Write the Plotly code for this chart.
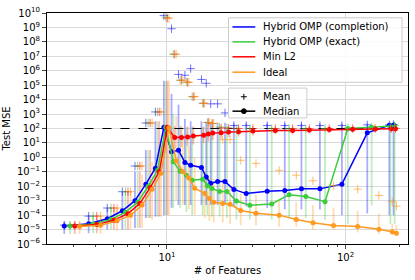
import numpy as np
import plotly.graph_objects as go

features = [3, 4, 5, 6, 7, 8, 9, 10, 11, 12, 13, 14, 16, 17, 18, 20, 22, 25, 30, 40, 50, 62, 80, 108, 145, 180, 190]

omp_comp_median = [1.8e-5, 2.5e-5, 5.6e-5, 2.0e-4, 1.0e-3, 1.4e-2, 0.18, 120, 2.5, 3.1, 0.45, 0.28, 0.2, 0.043, 0.016, 0.021, 0.021, 6.0e-3, 3.1e-3, 4.5e-3, 5.0e-3, 6.6e-3, 6.6e-3, 1.4e-2, 50, 166, 178]
omp_comp_mean = [2.0e-5, 8.5e-5, 3.1e-4, 4.2e-3, 0.25, 240, 1.4e3, 6.6e9, 8.1e8, 5.6e5, 4.9e5, 1.4e6, 2.5e5, 1.35e5, 5.1e3, 5.1e3, 1.2e3, 160, 160, 160, 160, 160, 160, 160, 180, 180, 190]
omp_comp_lo = [5.0e-6, 5.6e-6, 1.0e-5, 1.0e-5, 1.3e-5, 6.3e-5, 7.9e-5, 1.0e-4, 3.2e-4, 5.0e-4, 5.0e-4, 5.0e-4, 5.0e-4, 5.0e-4, 5.0e-4, 5.0e-4, 5.0e-4, 4.0e-4, 4.0e-4, 3.2e-4, 2.5e-4, 2.5e-4, 2.5e-4, 1.0e-4, 1.3e-4, 1.0e-4, 1.0e-4]
omp_comp_hi = [3.5e-5, 1.0e-4, 3.4e-4, 4.5e-3, 0.1, 3.2, 320, 2.0e5, 2.5e4, 4.5e3, 450, 320, 320, 280, 250, 250, 250, 224, 224, 224, 224, 224, 224, 224, 224, 224, 224]

omp_exact_median = [1.8e-5, 2.4e-5, 5.0e-5, 1.6e-4, 7.9e-4, 1.0e-2, 0.126, 120, 0.5, 0.11, 0.058, 0.026, 0.031, 0.011, 7.1e-3, 4.4e-3, 4.4e-3, 9.5e-4, 4.8e-4, 6.0e-4, 2.6e-3, 1.95e-3, 8.5e-4, 100, 123, 141, 158]
omp_exact_mean = [2.0e-5, 8.5e-5, 3.1e-4, 4.2e-3, 0.25, 240, 1.4e3, 5.0e9, 1.4e7, 2.2e5, 1.6e5, 1.6e4, 5.6e3, 263, 224, 126, 112, 100, 100, 100, 100, 100, 100, 112, 126, 141, 158]
omp_exact_lo = [5.0e-6, 5.6e-6, 1.0e-5, 1.0e-5, 1.3e-5, 6.3e-5, 7.9e-5, 1.0e-4, 3.2e-4, 3.2e-4, 1.6e-4, 1.0e-4, 1.0e-4, 1.0e-4, 7.9e-5, 7.9e-5, 6.3e-5, 5.0e-5, 5.0e-5, 5.0e-5, 7.4e-5, 6.3e-5, 4.7e-5, 2.5e-5, 4.7e-4, 2.5e-5, 2.5e-5]
omp_exact_hi = [3.5e-5, 1.0e-4, 3.4e-4, 4.5e-3, 0.1, 3.2, 320, 2.0e5, 1.0e3, 160, 126, 126, 126, 126, 126, 126, 126, 126, 126, 126, 126, 126, 126, 126, 126, 126, 126]

min_l2_median = [1.8e-5, 2.2e-5, 4.5e-5, 1.26e-4, 6.3e-4, 7.9e-3, 0.1, 120, 24, 24, 26, 30, 34, 42, 48, 51, 58, 59, 66, 74, 74, 79, 85, 89, 91, 95, 95]
min_l2_mean = [2.0e-5, 8.5e-5, 3.1e-4, 4.2e-3, 0.25, 240, 1.4e3, 4.4e9, 1.4e7, 2.2e5, 1.6e5, 1.6e4, 5.6e3, 263, 224, 110, 105, 100, 100, 100, 100, 100, 100, 100, 100, 100, 100]
min_l2_lo = [5.0e-6, 5.6e-6, 1.0e-5, 1.0e-5, 1.3e-5, 6.3e-5, 7.9e-5, 1.0e-4, 4, 5, 6.3, 7.9, 10, 12.6, 15.8, 20, 25, 28, 32, 40, 40, 45, 50, 56, 56, 63, 63]
min_l2_hi = [3.5e-5, 1.0e-4, 3.4e-4, 4.5e-3, 0.1, 3.2, 320, 2.0e5, 140, 140, 140, 140, 140, 140, 140, 140, 140, 140, 140, 140, 140, 140, 140, 140, 140, 140, 140]

ideal_median = [1.6e-5, 2.0e-5, 4.0e-5, 1.0e-4, 5.0e-4, 6.3e-3, 0.079, 112, 0.58, 0.105, 0.038, 7.4e-3, 3.2e-3, 1.4e-3, 7.9e-4, 6.3e-4, 5.6e-4, 2.1e-4, 1.35e-4, 1.0e-4, 4.9e-5, 3.0e-5, 1.95e-5, 1.6e-5, 1.05e-5, 7.1e-6, 5.6e-6]
ideal_mean = [2.0e-5, 8.5e-5, 3.1e-4, 4.2e-3, 0.25, 240, 1.4e3, 4.4e9, 1.4e7, 2.2e5, 1.6e5, 1.6e4, 5.6e3, 263, 224, 17, 17, 0.63, 0.38, 0.126, 0.058, 0.024, 0.011, 6.3e-3, 2.3e-3, 8.5e-4, 4.2e-4]
ideal_lo = [5.0e-6, 5.0e-6, 7.9e-6, 1.0e-5, 1.3e-5, 5.0e-5, 7.9e-5, 1.0e-4, 1.0e-3, 5.0e-4, 2.5e-4, 1.0e-4, 6.3e-5, 4.0e-5, 3.2e-5, 3.2e-5, 2.5e-5, 2.0e-5, 2.0e-5, 1.6e-5, 1.6e-5, 1.0e-5, 1.0e-5, 6.3e-6, 5.0e-6, 4.0e-6, 3.5e-6]
ideal_hi = [3.5e-5, 1.0e-4, 3.2e-4, 4.0e-3, 6.3e-2, 0.5, 7.9, 2.0e5, 710, 40, 6.3, 1.0, 0.1, 0.04, 0.032, 0.032, 0.01, 3.2e-3, 2.5e-3, 1.0e-3, 7.9e-4, 5.0e-4, 3.2e-4, 2.0e-4, 1.26e-4, 2.5e-5, 2.0e-5]

noise_x = [3.45, 195]
noise_y = [100, 100]

y_tick_exponents = list(range(-6, 11))
x_tick_values = [10, 100]
x_tick_labels = ["10<sup>1</sup>", "10<sup>2</sup>"]
x_minor_ticks = [3, 4, 5, 6, 7, 8, 9, 20, 30, 40, 50, 60, 70, 80, 90, 200]

series = [
    ("Hybrid OMP (completion)", omp_comp_median, omp_comp_mean, omp_comp_lo, omp_comp_hi, "#0000ff", "rgba(0,0,255,0.33)", "rgba(0,0,255,0.55)", -0.42),
    ("Hybrid OMP (exact)", omp_exact_median, omp_exact_mean, omp_exact_lo, omp_exact_hi, "#3ccc3c", "rgba(60,204,60,0.33)", "rgba(60,204,60,0.6)", -0.16),
    ("Min L2", min_l2_median, min_l2_mean, min_l2_lo, min_l2_hi, "#ff0000", "rgba(255,0,0,0.28)", "rgba(255,0,0,0.55)", 0.05),
    ("Ideal", ideal_median, ideal_mean, ideal_lo, ideal_hi, "#ff9a1f", "rgba(255,154,31,0.35)", "rgba(255,154,31,0.65)", 0.27),
]

lx = np.log10(np.array(features, dtype=float))
gaps = np.diff(lx)
g = np.minimum(np.r_[gaps, gaps[-1]], np.r_[gaps[0], gaps])

fig = go.Figure()

for name, med, mean, lo, hi, col, bcol, mcol, k in series:
    xs = 10 ** (lx + k * g)
    med_a = np.array(med); lo_a = np.array(lo); hi_a = np.array(hi)
    fig.add_trace(go.Scatter(
        x=xs, y=med_a, mode="markers", marker=dict(size=1, opacity=0),
        error_y=dict(type="data", symmetric=False, array=np.maximum(hi_a - med_a, 0),
                     arrayminus=np.maximum(med_a - lo_a, 0), color=bcol, thickness=1.8, width=0),
        showlegend=False, hoverinfo="skip"))

fig.add_trace(go.Scatter(x=noise_x, y=noise_y, mode="lines",
                         line=dict(color="black", width=1.2, dash="dash"),
                         showlegend=False, hoverinfo="skip"))

for name, med, mean, lo, hi, col, bcol, mcol, k in series:
    xs = 10 ** (lx + k * g)
    fig.add_trace(go.Scatter(x=xs, y=med, mode="lines+markers", name=name,
                             line=dict(color=col, width=1.5),
                             marker=dict(color=col, size=5),
                             showlegend=False))

for name, med, mean, lo, hi, col, bcol, mcol, k in series:
    xs = 10 ** (lx + k * g)
    fig.add_trace(go.Scatter(x=xs, y=mean, mode="markers", name=name + " mean",
                             marker=dict(symbol="cross-thin", size=6, line=dict(color=mcol, width=1)),
                             showlegend=False))

# ---- manual legends (pixel layout converted to paper coords) ----
L, R, T, B = 45, 409, 8, 248
def px(xp):
    return (xp - L) / (R - L)
def py(yp):
    return (B - yp) / (B - T)

shapes = []
annotations = []
font = dict(family="DejaVu Sans", size=10, color="black")

def box(x0, y0, x1, y1):
    shapes.append(dict(type="rect", xref="paper", yref="paper", x0=px(x0), x1=px(x1), y0=py(y1), y1=py(y0),
                       line=dict(color="#cccccc", width=1), fillcolor="rgba(255,255,255,0.85)", layer="above"))

def hline(x0, x1, y, color):
    shapes.append(dict(type="line", xref="paper", yref="paper", x0=px(x0), x1=px(x1), y0=py(y), y1=py(y),
                       line=dict(color=color, width=1.5), layer="above"))

def label(x, y, text):
    annotations.append(dict(xref="paper", yref="paper", x=px(x), y=py(y), text=text, showarrow=False,
                            xanchor="left", yanchor="middle", font=font))

box(228, 13, 403, 80)
rows = [22.5, 38, 53.5, 69.5]
for (name, med, mean, lo, hi, col, bcol, mcol, k), yr in zip(series, rows):
    hline(232, 255, yr, col)
    label(261, yr, name)

box(228, 86, 307, 117)
shapes.append(dict(type="line", xref="paper", yref="paper", x0=px(240.5), x1=px(246.5), y0=py(95), y1=py(95),
                   line=dict(color="black", width=1), layer="above"))
shapes.append(dict(type="line", xref="paper", yref="paper", x0=px(243.5), x1=px(243.5), y0=py(92), y1=py(98),
                   line=dict(color="black", width=1), layer="above"))
label(261, 95, "Mean")
hline(232, 255, 110, "black")
shapes.append(dict(type="circle", xref="paper", yref="paper", x0=px(241), x1=px(246), y0=py(112.5), y1=py(107.5),
                   line=dict(color="black", width=1), fillcolor="black", layer="above"))
label(261, 110, "Median")

fig.update_layout(
    width=415, height=280, autosize=False,
    margin=dict(l=L, r=415 - R, t=T, b=280 - B),
    paper_bgcolor="white", plot_bgcolor="white",
    font=font, showlegend=False,
    shapes=shapes, annotations=annotations,
    xaxis=dict(type="log", range=[0.328, 2.35], showline=True, mirror=True, linecolor="black", linewidth=1,
               ticks="outside", ticklen=4, tickvals=x_tick_values, ticktext=x_tick_labels,
               showgrid=True, gridcolor="#dadada", gridwidth=1, zeroline=False,
               minor=dict(ticks="outside", ticklen=2, tickvals=x_minor_ticks, showgrid=False),
               title=dict(text="# of Features", font=font, standoff=4)),
    yaxis=dict(type="log", range=[-6, 10], showline=True, mirror=True, linecolor="black", linewidth=1,
               ticks="outside", ticklen=4,
               tickvals=[10.0 ** e for e in y_tick_exponents],
               ticktext=["10<sup>%s</sup>" % (str(e).replace("-", "\u2212")) for e in y_tick_exponents],
               showgrid=True, gridcolor="#dadada", gridwidth=1, zeroline=False,
               title=dict(text="Test MSE", font=font, standoff=4)),
)

fig.write_html("out.html", config={"displayModeBar": False},
               post_script="document.body.style.margin='0';document.body.style.padding='0';")
